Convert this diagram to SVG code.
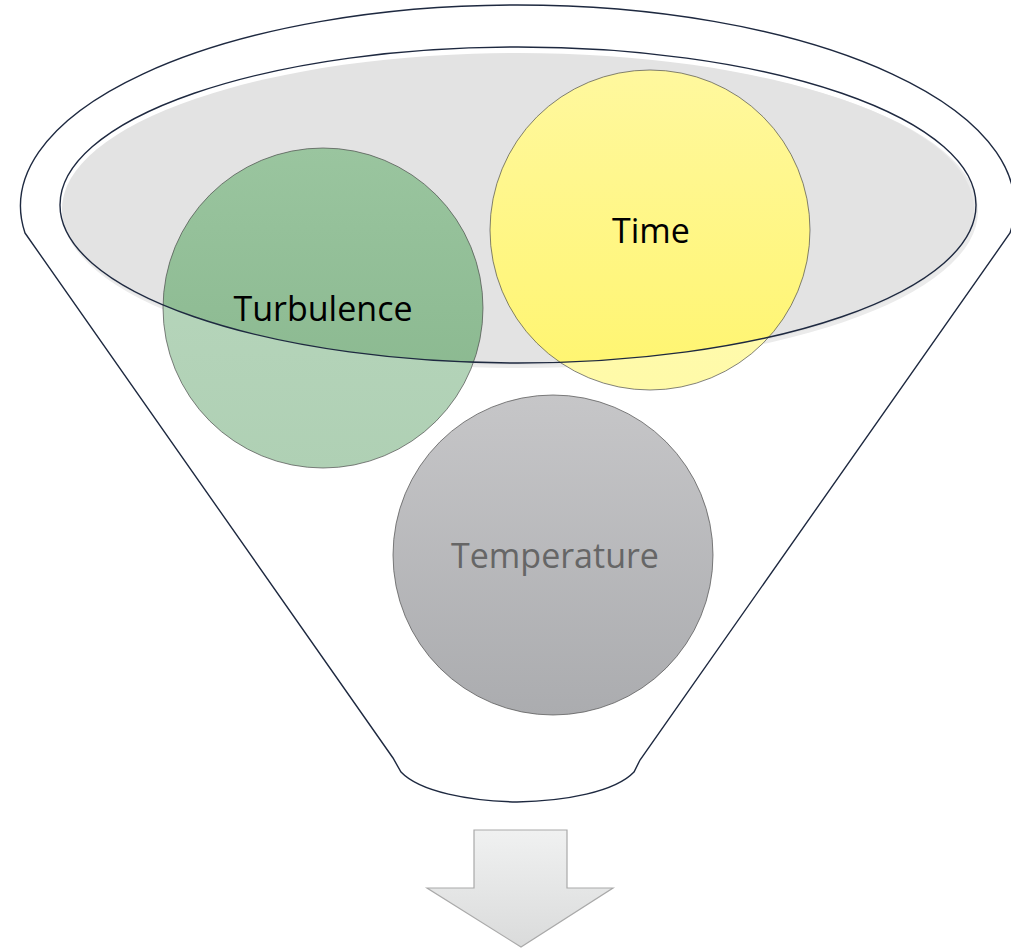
<svg xmlns="http://www.w3.org/2000/svg" width="1011" height="949" viewBox="0 0 1011 949">
<style>
.rim{fill:none;stroke:#1e2940;stroke-width:1.4}
.ring{stroke:#4d4d4d;stroke-opacity:0.7;stroke-width:1}
.lbl{font-family:"Open Sans","Noto Sans","Liberation Sans",sans-serif;font-size:34px;text-anchor:middle}
</style>
<defs>
<clipPath id="inner"><ellipse cx="518" cy="205" rx="458" ry="158"/></clipPath>
<linearGradient id="gLight" x1="0" y1="0" x2="0" y2="1"><stop offset="0" stop-color="#bad8bf"/><stop offset="1" stop-color="#afd0b4"/></linearGradient>
<linearGradient id="gDark" x1="0" y1="0" x2="0" y2="1"><stop offset="0" stop-color="#9ac59f"/><stop offset="1" stop-color="#86b58b"/></linearGradient>
<linearGradient id="yLight" x1="0" y1="0" x2="0" y2="1"><stop offset="0" stop-color="#fffcc0"/><stop offset="1" stop-color="#fffaa8"/></linearGradient>
<linearGradient id="yDark" x1="0" y1="0" x2="0" y2="1"><stop offset="0" stop-color="#fff89e"/><stop offset="1" stop-color="#fff56e"/></linearGradient>
<linearGradient id="tGrad" x1="0" y1="0" x2="0" y2="1"><stop offset="0" stop-color="#c6c6c8"/><stop offset="1" stop-color="#abacaf"/></linearGradient>
<linearGradient id="aGrad" x1="0" y1="0" x2="0" y2="1"><stop offset="0" stop-color="#f0f1f1"/><stop offset="1" stop-color="#dadbdb"/></linearGradient>
</defs>
<rect width="1011" height="949" fill="#ffffff"/>
<g id="funnel">
<path class="rim" d="M25 233 L393 758 Q397 765 401 772 C420 792 470 801 517 802 C565 801 615 792 634 772 Q637 766 640 760 L1010 233 A497 201 0 1 0 25 233 Z"/>
<ellipse cx="520" cy="211" rx="458" ry="157" fill="#ebebeb"/>
<ellipse cx="518" cy="209" rx="456" ry="156" fill="#e3e3e3"/>
</g>
<g id="node-turbulence">
<circle cx="323" cy="308" r="160" fill="url(#gLight)"/>
<circle cx="323" cy="308" r="160" fill="url(#gDark)" clip-path="url(#inner)"/>
<circle class="ring" cx="323" cy="308" r="160" fill="none"/>
<text class="lbl" x="323" y="321" fill="#000000">Turbulence</text>
</g>
<g id="node-time">
<circle cx="650" cy="230" r="160" fill="url(#yLight)"/>
<circle cx="650" cy="230" r="160" fill="url(#yDark)" clip-path="url(#inner)"/>
<circle class="ring" cx="650" cy="230" r="160" fill="none"/>
<text class="lbl" x="651" y="243" fill="#000000">Time</text>
</g>
<g id="node-temperature">
<circle class="ring" cx="553" cy="555" r="160" fill="url(#tGrad)"/>
<text class="lbl" x="555" y="568" fill="#666666">Temperature</text>
</g>
<g id="funnel-rim">
<ellipse class="rim" cx="518" cy="205" rx="458" ry="158"/>
</g>
<g id="connectors">
<path id="arrow" d="M474 830 L567 830 L567 888 L613 888 L521 947 L427 888 L474 888 Z" fill="url(#aGrad)" stroke="#a9a9a9" stroke-width="1.2"/>
</g>
</svg>
